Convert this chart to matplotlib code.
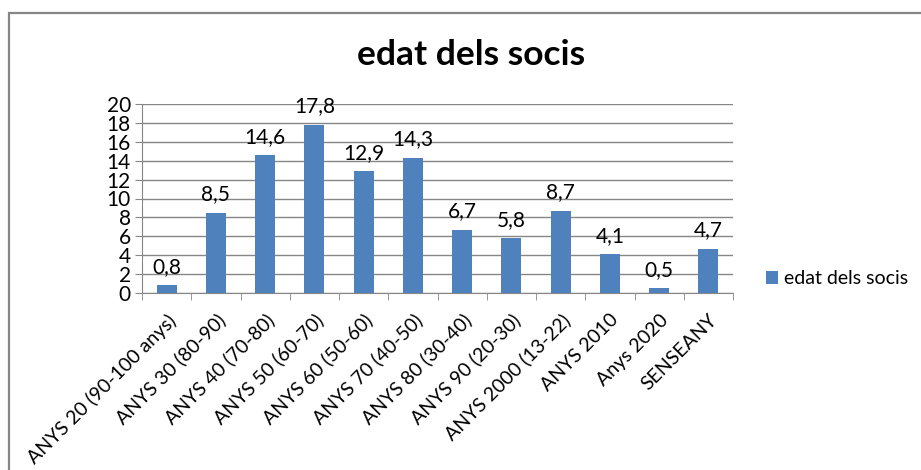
import matplotlib.pyplot as plt
from matplotlib.patches import Rectangle

# Dades
categories = ["ANYS 20 (90-100 anys)", "ANYS 30 (80-90)", "ANYS 40 (70-80)",
              "ANYS 50 (60-70)", "ANYS 60 (50-60)", "ANYS 70 (40-50)",
              "ANYS 80 (30-40)", "ANYS 90 (20-30)", "ANYS 2000 (13-22)",
              "ANYS 2010", "Anys 2020", "SENSEANY"]
valors = [0.8, 8.5, 14.6, 17.8, 12.9, 14.3, 6.7, 5.8, 8.7, 4.1, 0.5, 4.7]
serie = "edat dels socis"

plt.rcParams['font.family'] = ['Lato', 'DejaVu Sans']
blau = "#4F81BD"
gris = "#868686"

fig = plt.figure(figsize=(9.21, 4.70), dpi=100)
ax = fig.add_axes([142 / 921, 1 - 293 / 470, (733 - 142) / 921, (293 - 104) / 470])

x = list(range(len(categories)))
barres = ax.bar(x, valors, width=0.41, color=blau, zorder=3, label=serie)

# etiquetes de dades amb coma decimal
for xi, v in zip(x, valors):
    ax.annotate(f"{v:.1f}".replace(".", ","), (xi, v), xytext=(0, 6),
                textcoords="offset points", ha="center", va="bottom", fontsize=15)

ax.set_xlim(-0.5, len(categories) - 0.5)
ax.set_ylim(0, 20)
ax.set_yticks(range(0, 21, 2))
ax.tick_params(axis="y", labelsize=15, length=5, color=gris, pad=3)
ax.yaxis.grid(True, color=gris, linewidth=1, zorder=0)

ax.set_xticks(x)
ax.set_xticklabels(categories, rotation=45, ha="right", rotation_mode="anchor", fontsize=14)
ax.set_xticks([i - 0.5 for i in range(len(categories) + 1)], minor=True)
ax.tick_params(axis="x", which="major", length=0, pad=13)
ax.tick_params(axis="x", which="minor", length=5, color=gris)

for s in ["top", "right"]:
    ax.spines[s].set_visible(False)
for s in ["left", "bottom"]:
    ax.spines[s].set_color(gris)

fig.text(471 / 921, 1 - 55 / 470, serie, ha="center", va="center",
         fontsize=25.5, fontweight="bold")

fig.legend(handles=[barres], labels=[serie], loc="center left",
           bbox_to_anchor=(766 / 921, 1 - 279 / 470), frameon=False,
           borderaxespad=0, borderpad=0,
           fontsize=14, handlelength=0.6, handleheight=0.6, handletextpad=0.35)

# marc del gràfic
fig.patches.append(Rectangle((9 / 921, -0.1), 1.2, 1.1 - 13 / 470, transform=fig.transFigure,
                             fill=False, edgecolor=gris, linewidth=1.6))

fig.savefig("out.png", dpi=100)
